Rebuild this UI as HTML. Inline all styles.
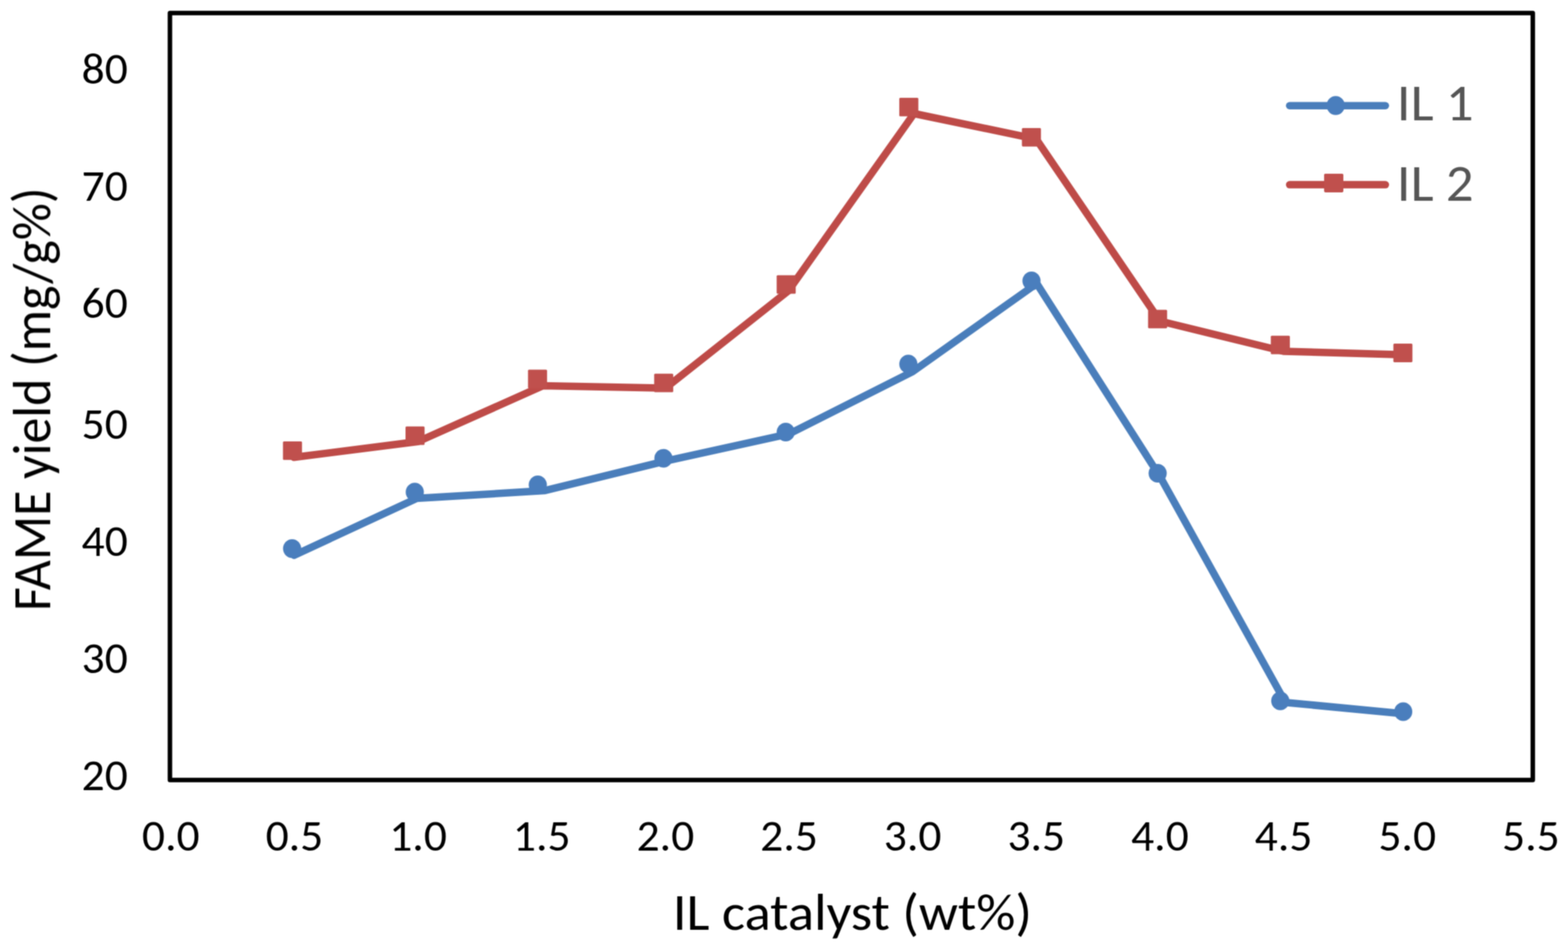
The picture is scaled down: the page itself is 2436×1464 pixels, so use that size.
<!DOCTYPE html>
<html><head><meta charset="utf-8"><title>FAME yield vs IL catalyst</title>
<style>
html,body{margin:0;padding:0;background:#fff;}
body{width:2436px;height:1464px;overflow:hidden;}
svg{display:block;}
text{font-family:Carlito, 'Liberation Sans', sans-serif;font-size:68px;fill:#000;}
.big{font-size:80.5px;}
.leg{fill:#555555;}
</style></head>
<body>
<svg width="2436" height="1464" viewBox="0 0 2436 1464">
<defs><filter id="soft" filterUnits="userSpaceOnUse" x="0" y="0" width="2436" height="1464" color-interpolation-filters="sRGB"><feConvolveMatrix order="5" kernelMatrix="0.00048 0.00501 0.01095 0.00501 0.00048 0.00501 0.05222 0.11405 0.05222 0.00501 0.01095 0.11405 0.24912 0.11405 0.01095 0.00501 0.05222 0.11405 0.05222 0.00501 0.00048 0.00501 0.01095 0.00501 0.00048" divisor="1" edgeMode="none"/></filter></defs>
<rect width="2436" height="1464" fill="#fff"/>
<g filter="url(#soft)">
<rect x="264.0" y="20.2" width="2117.3" height="1192.1" fill="none" stroke="#000" stroke-width="7" stroke-linejoin="round"/>
<text transform="translate(265.3,1321.6) scale(1.04,1)" text-anchor="middle" textLength="86.09" lengthAdjust="spacingAndGlyphs">0.0</text>
<text transform="translate(457.4,1321.6) scale(1.04,1)" text-anchor="middle" textLength="86.09" lengthAdjust="spacingAndGlyphs">0.5</text>
<text transform="translate(649.5,1321.6) scale(1.04,1)" text-anchor="middle" textLength="86.09" lengthAdjust="spacingAndGlyphs">1.0</text>
<text transform="translate(841.6,1321.6) scale(1.04,1)" text-anchor="middle" textLength="86.09" lengthAdjust="spacingAndGlyphs">1.5</text>
<text transform="translate(1033.7,1321.6) scale(1.04,1)" text-anchor="middle" textLength="86.09" lengthAdjust="spacingAndGlyphs">2.0</text>
<text transform="translate(1225.8,1321.6) scale(1.04,1)" text-anchor="middle" textLength="86.09" lengthAdjust="spacingAndGlyphs">2.5</text>
<text transform="translate(1417.8,1321.6) scale(1.04,1)" text-anchor="middle" textLength="86.09" lengthAdjust="spacingAndGlyphs">3.0</text>
<text transform="translate(1609.9,1321.6) scale(1.04,1)" text-anchor="middle" textLength="86.09" lengthAdjust="spacingAndGlyphs">3.5</text>
<text transform="translate(1802.0,1321.6) scale(1.04,1)" text-anchor="middle" textLength="86.09" lengthAdjust="spacingAndGlyphs">4.0</text>
<text transform="translate(1994.1,1321.6) scale(1.04,1)" text-anchor="middle" textLength="86.09" lengthAdjust="spacingAndGlyphs">4.5</text>
<text transform="translate(2186.2,1321.6) scale(1.04,1)" text-anchor="middle" textLength="86.09" lengthAdjust="spacingAndGlyphs">5.0</text>
<text transform="translate(2378.3,1321.6) scale(1.04,1)" text-anchor="middle" textLength="86.09" lengthAdjust="spacingAndGlyphs">5.5</text>
<text transform="translate(198.5,129.6) scale(1.04,1)" text-anchor="end" textLength="68.92" lengthAdjust="spacingAndGlyphs">80</text>
<text transform="translate(198.5,311.7) scale(1.04,1)" text-anchor="end" textLength="68.92" lengthAdjust="spacingAndGlyphs">70</text>
<text transform="translate(198.5,493.9) scale(1.04,1)" text-anchor="end" textLength="68.92" lengthAdjust="spacingAndGlyphs">60</text>
<text transform="translate(198.5,682.1) scale(1.04,1)" text-anchor="end" textLength="68.92" lengthAdjust="spacingAndGlyphs">50</text>
<text transform="translate(198.5,863.9) scale(1.04,1)" text-anchor="end" textLength="68.92" lengthAdjust="spacingAndGlyphs">40</text>
<text transform="translate(198.5,1045.8) scale(1.04,1)" text-anchor="end" textLength="68.92" lengthAdjust="spacingAndGlyphs">30</text>
<text transform="translate(198.5,1227.7) scale(1.04,1)" text-anchor="end" textLength="68.92" lengthAdjust="spacingAndGlyphs">20</text>
<polyline points="456.9,863.0 647.5,774.6 845.5,762.6 1033.7,716.6 1225.8,674.4 1417.8,577.6 1610.7,440.6 1803.5,743.0 1997.0,1091.7 2186.0,1109.8" fill="none" stroke="#4A7EBB" stroke-width="11.5" stroke-linejoin="round" stroke-linecap="round"/>
<polyline points="456.5,710.8 649.5,686.2 843.5,599.5 1033.7,603.2 1224.5,452.3 1420.0,176.5 1609.9,216.2 1802.0,499.0 1994.0,546.0 2186.0,551.5" fill="none" stroke="#BE4B48" stroke-width="11.5" stroke-linejoin="round" stroke-linecap="round"/>
<ellipse cx="453.8" cy="852.6" rx="14.1" ry="14.55" fill="#4A7EBD"/>
<ellipse cx="644.4" cy="764.8" rx="14.1" ry="14.55" fill="#4A7EBD"/>
<ellipse cx="835.5" cy="753.6" rx="14.1" ry="14.55" fill="#4A7EBD"/>
<ellipse cx="1030.7" cy="712.2" rx="14.1" ry="14.55" fill="#4A7EBD"/>
<ellipse cx="1220.7" cy="671.5" rx="14.1" ry="14.55" fill="#4A7EBD"/>
<ellipse cx="1411.2" cy="565.8" rx="14.1" ry="14.55" fill="#4A7EBD"/>
<ellipse cx="1602.5" cy="436.6" rx="14.1" ry="14.55" fill="#4A7EBD"/>
<ellipse cx="1798.5" cy="735.5" rx="14.1" ry="14.55" fill="#4A7EBD"/>
<ellipse cx="1989.0" cy="1089.2" rx="14.1" ry="14.55" fill="#4A7EBD"/>
<ellipse cx="2180.0" cy="1106.0" rx="14.1" ry="14.55" fill="#4A7EBD"/>
<rect x="439.6" y="686.0" width="29.6" height="28.8" rx="1.6" fill="#C0504D"/>
<rect x="630.0" y="662.8" width="29.6" height="28.8" rx="1.6" fill="#C0504D"/>
<rect x="820.3" y="574.6" width="29.6" height="28.8" rx="1.6" fill="#C0504D"/>
<rect x="1016.3" y="580.8" width="29.6" height="28.8" rx="1.6" fill="#C0504D"/>
<rect x="1206.6" y="427.7" width="29.6" height="28.8" rx="1.6" fill="#C0504D"/>
<rect x="1397.1" y="152.0" width="29.6" height="28.8" rx="1.6" fill="#C0504D"/>
<rect x="1587.6" y="198.9" width="29.6" height="28.8" rx="1.6" fill="#C0504D"/>
<rect x="1783.6" y="481.4" width="29.6" height="28.8" rx="1.6" fill="#C0504D"/>
<rect x="1974.3" y="521.7" width="29.6" height="28.8" rx="1.6" fill="#C0504D"/>
<rect x="2164.7" y="534.1" width="29.6" height="28.8" rx="1.6" fill="#C0504D"/>
<line x1="2003.5" y1="164.2" x2="2152.3" y2="164.2" stroke="#4A7EBB" stroke-width="11.5" stroke-linecap="round"/>
<ellipse cx="2075.1" cy="164.0" rx="14.1" ry="14.8" fill="#4A7EBD"/>
<line x1="2003.5" y1="287.1" x2="2152.3" y2="287.1" stroke="#BE4B48" stroke-width="11.5" stroke-linecap="round"/>
<rect x="2057.1" y="269.9" width="29.9" height="29" rx="1.8" fill="#C0504D"/>
<text transform="translate(2170,186.7) scale(1.055,1)" class="big leg" textLength="113.11" lengthAdjust="spacingAndGlyphs">IL 1</text>
<text transform="translate(2170,311.5) scale(1.055,1)" class="big leg" textLength="113.11" lengthAdjust="spacingAndGlyphs">IL 2</text>
<text transform="translate(1324.2,1445.4) scale(1.055,1)" class="big" text-anchor="middle" textLength="528.93" lengthAdjust="spacingAndGlyphs">IL catalyst (wt%)</text>
<text transform="translate(78.3,620.5) scale(1.055,1) rotate(-90)" class="big" text-anchor="middle" textLength="658.28" lengthAdjust="spacingAndGlyphs">FAME yield (mg/g%)</text>
</g>
</svg>
</body></html>
